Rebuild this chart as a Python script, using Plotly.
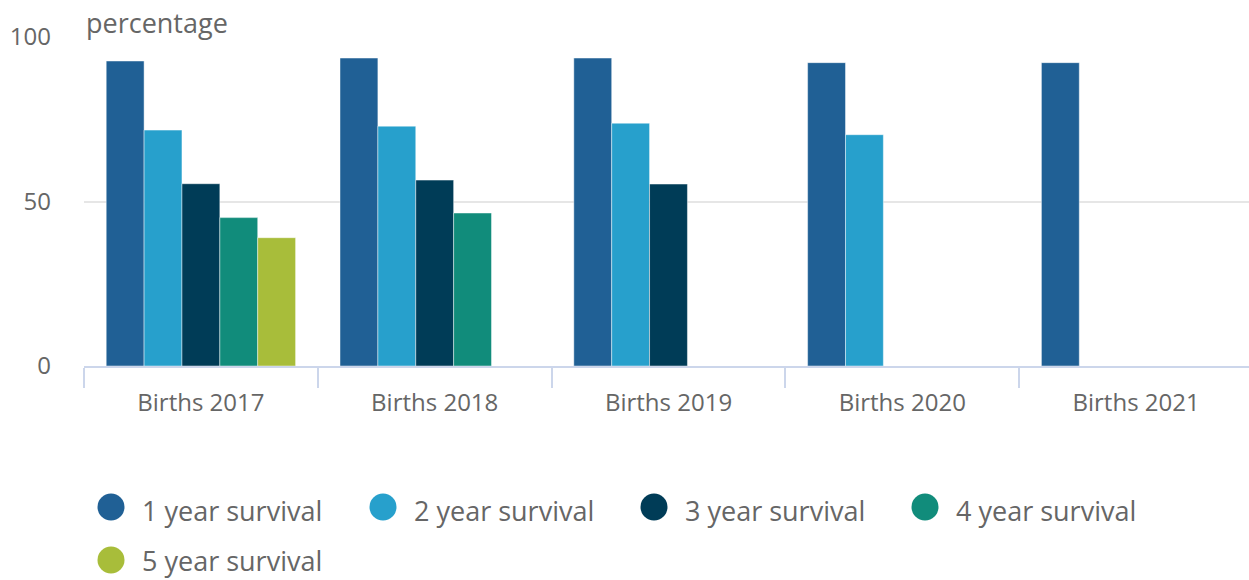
import plotly.graph_objects as go

categories = ["Births 2017", "Births 2018", "Births 2019", "Births 2020", "Births 2021"]
series_names = ["1 year survival", "2 year survival", "3 year survival", "4 year survival", "5 year survival"]
survival_1yr = [92.7, 93.6, 93.6, 92.2, 92.2]
survival_2yr = [71.7, 72.9, 73.8, 70.3, None]
survival_3yr = [55.4, 56.5, 55.3, None, None]
survival_4yr = [45.1, 46.5, None, None, None]
survival_5yr = [39.0, None, None, None, None]
y_ticks = [0, 50, 100]
colors = ["#206095", "#27a0cc", "#003c57", "#118c7b", "#a8bd3a"]

all_series = [survival_1yr, survival_2yr, survival_3yr, survival_4yr, survival_5yr]

W, H = 1253, 580
L, T = 84, 37
ph = 366 - 37
B = H - T - ph
R = 0
pw = W - L - R


def xpaper(px):
    return (px - L) / pw


def ypaper(py):
    return (366 - py) / ph


fig = go.Figure()
for name, vals, col in zip(series_names, all_series, colors):
    fig.add_trace(go.Bar(
        x=categories, y=vals, name=name, showlegend=False,
        marker=dict(color=col, line=dict(color="rgba(255,255,255,0.45)", width=1)),
    ))

FONT = "Open Sans"
GREY = "#666666"

# manual legend (page pixel positions of circle centers, text offsets)
legend_items = [(111, 507, 3), (383, 507, 3), (654, 507, 3), (925, 507, 3), (111, 560, 0)]
shapes = []
annotations = []
for (cx, cy, dy), name, col in zip(legend_items, series_names, colors):
    shapes.append(dict(type="circle", xref="paper", yref="paper",
                       xsizemode="pixel", ysizemode="pixel",
                       xanchor=xpaper(cx), yanchor=ypaper(cy), x0=-13.5, x1=13.5, y0=-13.5, y1=13.5,
                       fillcolor=col, line=dict(width=0)))
    annotations.append(dict(text=name, xref="paper", yref="paper",
                            x=xpaper(cx + 29), y=ypaper(cy + dy), xanchor="left", yanchor="middle",
                            showarrow=False, font=dict(family=FONT, size=27, color=GREY)))

annotations.append(dict(text="percentage", xref="paper", yref="paper",
                        x=xpaper(84), y=ypaper(22), xanchor="left", yanchor="middle",
                        showarrow=False, font=dict(family=FONT, size=27, color=GREY)))

fig.update_layout(
    width=W, height=H,
    margin=dict(l=L, r=R, t=T, b=B, pad=0),
    paper_bgcolor="white", plot_bgcolor="white",
    barmode="group", bargap=0.19, bargroupgap=0,
    font=dict(family=FONT, size=24, color=GREY),
    showlegend=False,
    shapes=shapes, annotations=annotations,
    xaxis=dict(showline=True, linecolor="#ccd6eb", linewidth=2,
               ticks="outside", tickson="boundaries", ticklen=20, tickwidth=2,
               tickcolor="#ccd6eb", showgrid=False, ticklabelstandoff=14,
               tickfont=dict(family=FONT, size=24, color=GREY)),
    yaxis=dict(range=[0, 100], tickvals=y_ticks, showgrid=True, gridcolor="#e6e6e6",
               gridwidth=1.5, zeroline=False, showline=False, ticks="",
               ticklabelstandoff=32,
               tickfont=dict(family=FONT, size=24, color=GREY)),
)

page_js = ("document.documentElement.style.margin='0';"
           "document.documentElement.style.overflow='hidden';"
           "document.body.style.margin='0';"
           "document.body.style.overflow='hidden';")

fig.write_html("out.html", post_script=page_js, config={"displayModeBar": False})
